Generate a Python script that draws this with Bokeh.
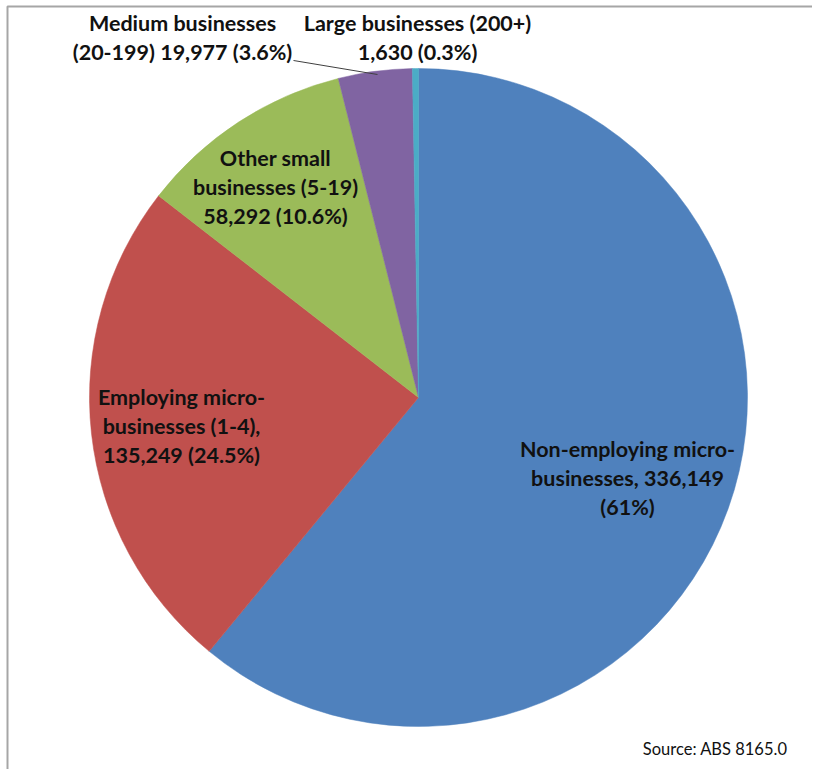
import numpy as np
from bokeh.plotting import figure
from bokeh.models import Range1d
from bokeh.core.properties import value
from bokeh.embed import file_html
from bokeh.resources import INLINE

# ---- data ----
categories = ["Non-employing micro-businesses", "Employing micro-businesses (1-4)",
              "Other small businesses (5-19)", "Medium businesses (20-199)",
              "Large businesses (200+)"]
counts = [336149, 135249, 58292, 19977, 1630]
colors = ["#4F81BD", "#C0504D", "#9BBB59", "#8064A2", "#4BACC6"]
label_lines = [
    ["Non-employing micro-", "businesses, 336,149", "(61%)"],
    ["Employing micro-", "businesses (1-4),", "135,249 (24.5%)"],
    ["Other small", "businesses (5-19)", "58,292 (10.6%)"],
    ["Medium businesses", "(20-199) 19,977 (3.6%)"],
    ["Large businesses (200+)", "1,630 (0.3%)"],
]
source_note = "Source: ABS 8165.0"

# ---- layout (picture pixels) ----
W, H = 812, 769
OFF = 0

def px(X):
    return X - OFF

def py(Y):
    return H - (Y - OFF)

p = figure(width=W, height=H, output_backend="svg", toolbar_location=None,
           x_range=Range1d(0, W), y_range=Range1d(0, H), min_border=0)
p.xaxis.visible = False
p.yaxis.visible = False
p.xgrid.visible = False
p.ygrid.visible = False
p.outline_line_color = None
p.background_fill_color = "white"
p.border_fill_color = "white"

# chart area frame (top and left edges visible)
p.line(x=[px(7), px(7), px(W + 10)], y=[py(H + 10), py(6), py(6)],
       line_color="#a6a6a6", line_width=2)

vals = np.array(counts, dtype=float)
frac = vals / vals.sum()
cum = np.concatenate([[0], np.cumsum(frac)])
starts = np.pi / 2 - 2 * np.pi * cum[:-1]
ends = np.pi / 2 - 2 * np.pi * cum[1:]

cx, cy, r = 418, 397, 329
p.wedge(x=px(cx), y=py(cy), radius=r, radius_units="screen",
        start_angle=starts, end_angle=ends, direction="clock",
        fill_color=colors, line_color=colors, line_width=0.5)

# label positions (picture px, centre of first line) and line step
label_pos = [(627, 448), (181, 396), (275, 157), (182, 22), (417, 22)]
step = 29
font = value("Lato")
for (lx, ly), lines in zip(label_pos, label_lines):
    xs = [px(lx)] * len(lines)
    ys = [py(ly + i * step) for i in range(len(lines))]
    p.text(x=xs, y=ys, text=lines, text_font=font, text_font_style="bold",
           text_font_size="21.5px", text_color="#111111",
           text_align="center", text_baseline="middle")

# leader line for medium businesses
p.line(x=[px(293), px(377)], y=[py(60), py(74)], line_color="#404040", line_width=1)

p.text(x=[px(787)], y=[py(748)], text=[source_note], text_font=font,
       text_font_size="16.5px", text_color="#111111",
       text_align="right", text_baseline="middle")

open("out.html", "w").write(file_html(p, INLINE))
